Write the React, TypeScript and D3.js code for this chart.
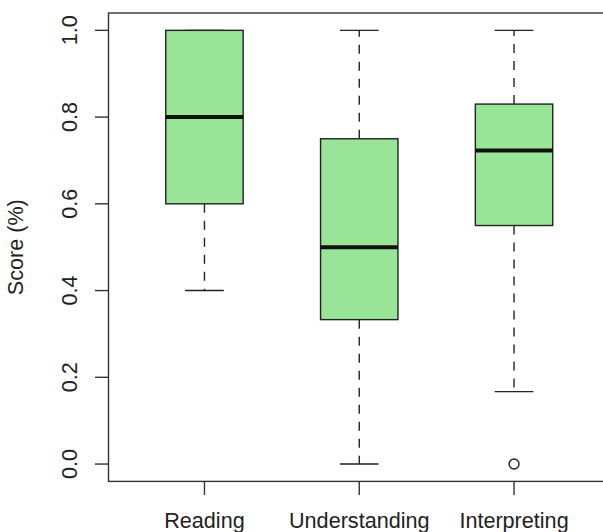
import React from "react";
import * as d3 from "d3";

// Score distributions per task (proportion correct)
const categories = ["Reading", "Understanding", "Interpreting"];
const whiskerLow = [0.4, 0.0, 0.167];
const quartile1 = [0.6, 0.333, 0.55];
const medians = [0.8, 0.5, 0.723];
const quartile3 = [1.0, 0.75, 0.83];
const whiskerHigh = [1.0, 1.0, 1.0];
const outliers: number[][] = [[], [], [0.0]];
const yTicks = [0.0, 0.2, 0.4, 0.6, 0.8, 1.0];

const W = 603;
const H = 532;
const FONT = "'Liberation Sans', Arial, sans-serif";
const FS = 21.6;

export default function App() {
  const x = d3.scaleLinear().domain([0.38, 3.62]).range([108.5, 610]);
  const y = d3.scaleLinear().domain([-0.04, 1.04]).range([481.4, 13]);
  const unit = x(1) - x(0);
  const halfBox = unit * 0.25;
  const halfStaple = unit * 0.125;
  const line = "#222";

  return (
    <svg
      width={W}
      height={H}
      style={{ position: "absolute", left: 0, top: 0, background: "#fff" }}
      fontFamily={FONT}
    >
      {/* plot frame */}
      <rect
        x={x(0.38)}
        y={y(1.04)}
        width={x(3.62) - x(0.38)}
        height={y(-0.04) - y(1.04)}
        fill="none"
        stroke="#333"
        strokeWidth={1.4}
      />

      {/* y axis ticks and labels */}
      {yTicks.map((t) => (
        <g key={t}>
          <line x1={95} x2={x(0.38)} y1={y(t)} y2={y(t)} stroke="#333" strokeWidth={1.4} />
          <text
            transform={`translate(77,${y(t)}) rotate(-90)`}
            textAnchor="middle"
            fontSize={FS}
            fill="#222"
          >
            {t.toFixed(1)}
          </text>
        </g>
      ))}
      <text
        transform={`translate(23,${(y(1.04) + y(-0.04)) / 2}) rotate(-90)`}
        textAnchor="middle"
        fontSize={FS}
        fill="#222"
      >
        Score (%)
      </text>

      {/* x axis ticks and labels */}
      {categories.map((c, i) => (
        <g key={c}>
          <line x1={x(i + 1)} x2={x(i + 1)} y1={y(-0.04)} y2={495} stroke="#333" strokeWidth={1.4} />
          <text x={x(i + 1)} y={528} textAnchor="middle" fontSize={FS} fill="#222">
            {c}
          </text>
        </g>
      ))}

      {/* boxes */}
      {categories.map((c, i) => {
        const cx = x(i + 1);
        return (
          <g key={c}>
            <line x1={cx} x2={cx} y1={y(quartile3[i])} y2={y(whiskerHigh[i])} stroke={line} strokeWidth={1.4} strokeDasharray="9,8" />
            <line x1={cx} x2={cx} y1={y(quartile1[i])} y2={y(whiskerLow[i])} stroke={line} strokeWidth={1.4} strokeDasharray="9,8" />
            <line x1={cx - halfStaple} x2={cx + halfStaple} y1={y(whiskerHigh[i])} y2={y(whiskerHigh[i])} stroke={line} strokeWidth={1.4} />
            <line x1={cx - halfStaple} x2={cx + halfStaple} y1={y(whiskerLow[i])} y2={y(whiskerLow[i])} stroke={line} strokeWidth={1.4} />
            <rect
              x={cx - halfBox}
              y={y(quartile3[i])}
              width={halfBox * 2}
              height={y(quartile1[i]) - y(quartile3[i])}
              fill="#98e598"
              stroke={line}
              strokeWidth={1.4}
            />
            <line x1={cx - halfBox} x2={cx + halfBox} y1={y(medians[i])} y2={y(medians[i])} stroke="#111" strokeWidth={4} />
            {outliers[i].map((o, j) => (
              <circle key={j} cx={cx} cy={y(o)} r={5} fill="none" stroke={line} strokeWidth={1.4} />
            ))}
          </g>
        );
      })}
    </svg>
  );
}
